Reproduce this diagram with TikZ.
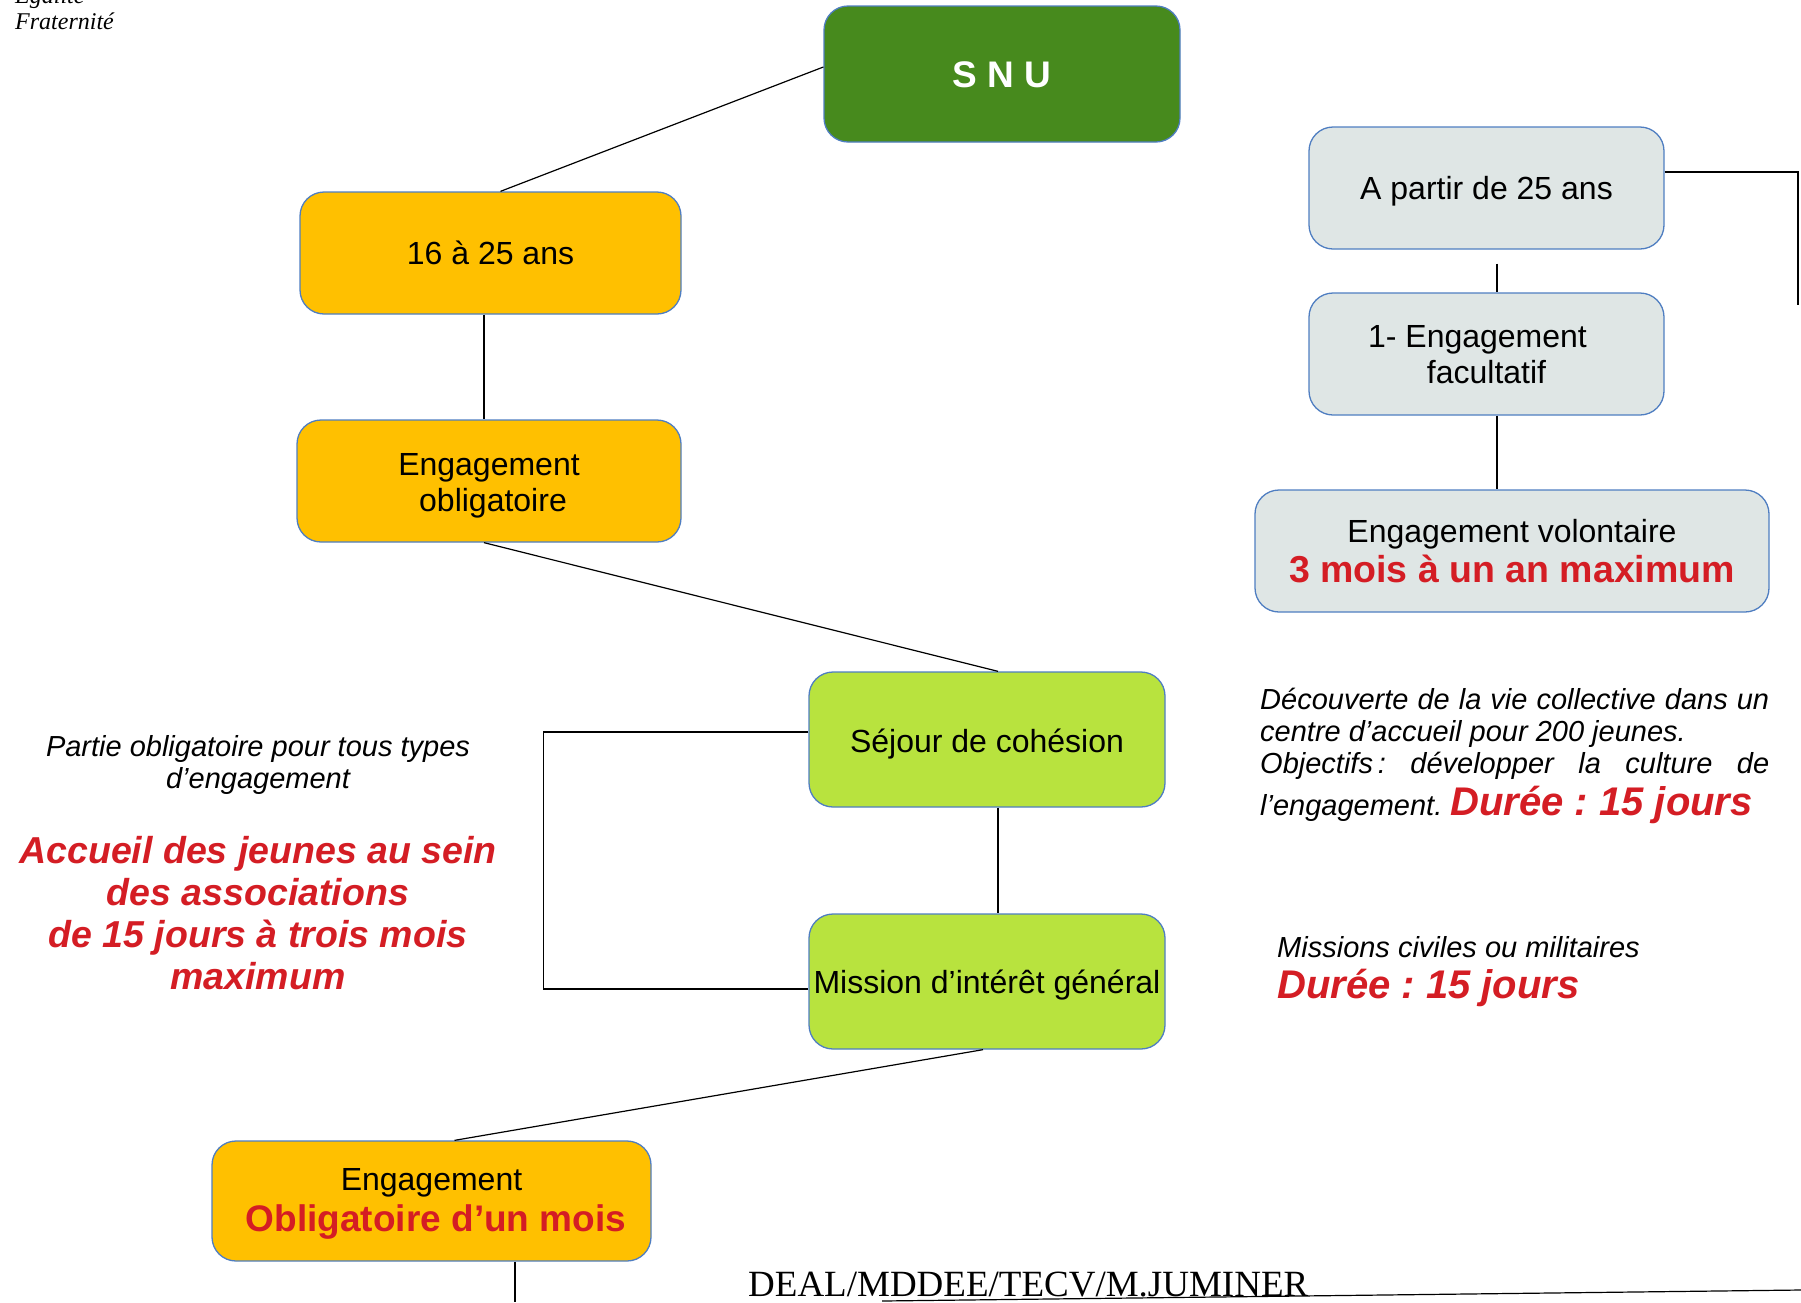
\documentclass[tikz,border=0pt]{standalone}
\usepackage{fontspec}
\setmainfont{Liberation Sans}
\newfontfamily\serifrm{Liberation Serif}
\usetikzlibrary{calc}
\frenchspacing
\definecolor{snugreen}{HTML}{478A1D}
\definecolor{snuyellow}{HTML}{FFC000}
\definecolor{snulime}{HTML}{B8E33E}
\definecolor{snugrey}{HTML}{DFE6E5}
\definecolor{snublue}{HTML}{4F7EC1}
\definecolor{snured}{HTML}{D41D24}
\newcommand\fsz[2]{\fontsize{#1}{#2}\selectfont}
\newcommand\dn[2]{\raisebox{-#1}[\height][\depth]{#2}}
\begin{document}
\begin{tikzpicture}[x=1pt,y=-1pt,
  box/.style={draw=snublue, line width=1.3pt, rounded corners=24pt, inner sep=0pt, align=center, font=\fsz{32}{36}},
  link/.style={draw=black, line width=1.2pt},
  note/.style={inner sep=0pt, font=\itshape\fsz{29}{32}},
  rednote/.style={inner sep=0pt, text=snured, font=\bfseries\itshape\fsz{37.5}{42}}]
\useasboundingbox (0,0) rectangle (1801,1302);

% boxes
\node[box, fill=snugreen, minimum width=356pt, minimum height=136pt, text=white, font=\bfseries\fsz{37}{40}] (snu) at (1002,74) {\dn{1pt}{S N U}};
\node[box, fill=snuyellow, minimum width=381pt, minimum height=122pt] (age) at (490.5,253) {16 à 25 ans};
\node[box, fill=snuyellow, minimum width=384pt, minimum height=122pt] (oblig) at (489,481) {\dn{4.5pt}{Engagement}\\\dn{4.5pt}{\hspace{8pt}obligatoire}};
\node[box, fill=snugrey, minimum width=355pt, minimum height=122pt] (apartir) at (1486.5,188) {\dn{3.5pt}{A partir de 25 ans}};
\node[box, fill=snugrey, minimum width=355pt, minimum height=122pt] (fac) at (1486.5,354) {\dn{1pt}{1- Engagement\hspace{18pt}}\\\dn{1pt}{facultatif}};
\node[box, fill=snugrey, minimum width=514pt, minimum height=122pt] (vol) at (1512,551) {Engagement volontaire\hspace{10pt}\\[4pt]{\color{snured}\bfseries\fsz{37.5}{40}3 mois à un an maximum}};
\node[box, fill=snulime, minimum width=356pt, minimum height=135pt] (sejour) at (987,739.5) {\dn{4.5pt}{Séjour de cohésion}};
\node[box, fill=snulime, minimum width=356pt, minimum height=135pt] (mission) at (987,981.5) {\dn{3.5pt}{Mission d’intérêt général}};
\node[box, fill=snuyellow, minimum width=439pt, minimum height=120pt] (mois) at (431.5,1201) {\dn{2.5pt}{Engagement}\\[5pt]\dn{2.5pt}{\hspace{9pt}\color{snured}\bfseries\fsz{37}{40}Obligatoire d’un mois}};

% free ends
\coordinate (rc1) at (1798,172);
\coordinate (rc2) at (1798,305);
\coordinate (moisend) at (515,1302);
\coordinate (bl1) at (882,1301);
\coordinate (bl2) at (1801,1290);

% connectors
\draw[link] ($(snu.west)+(0,-7)$) -- ($(age.north)+(10,0)$);
\draw[link] ($(age.south)+(-6.5,0)$) -- ($(oblig.north)+(-5,0)$);
\draw[link] ($(oblig.south)+(-5,0)$) -- ($(sejour.north)+(11,0)$);
\draw[link] ($(sejour.south)+(11,0)$) -- ($(mission.north)+(11,0)$);
\draw[link] ($(sejour.west)+(0,-7.5)$) -- ++(-265,0) |- ($(mission.west)+(0,7.5)$);
\draw[link] ($(mission.south)+(-4,0)$) -- ($(mois.north)+(23,0)$);
\draw[link] ($(mois.south)+(83.5,0)$) -- (moisend);
\draw[link] ($(apartir.east)+(0,-16)$) -- (rc1) -- (rc2);
\draw[link] ($(apartir.south)+(10.5,14)$) -- ($(fac.north)+(10.5,0)$);
\draw[link] ($(fac.south)+(10.5,0)$) -- ($(vol.north)+(-15,0)$);
\draw[link] (bl1) -- (bl2);

% texts
\node[inner sep=0pt, anchor=base west, font=\serifrm\itshape\fsz{24}{26}] (egal) at (15,3) {Égalité};
\node[inner sep=0pt, anchor=base west, font=\serifrm\itshape\fsz{24}{26}] (frat) at (15,29) {Fraternité};
\node[inner sep=0pt, anchor=base west, font=\serifrm\fsz{37}{40}] (deal) at (748,1296) {DEAL/MDDEE/TECV/M.JUMINER};

\node[note, align=center] (partie) at (258,765) {Partie obligatoire pour tous types\\d’engagement};
\node[rednote, align=center] (accueil) at (258,913) {Accueil des jeunes au sein\\des associations\\de 15 jours à trois mois\\maximum};

\node[note, text width=509pt, align=justify, anchor=north west] (decouv) at (1260,688)
  {\hyphenpenalty=10000\exhyphenpenalty=10000 Découverte de la vie collective dans un centre d’accueil pour 200 jeunes.\par
   Objectifs\,: développer la culture de \rule{0pt}{35pt}l’engagement. {\color{snured}\bfseries\fsz{40}{42}Durée : 15 jours}};

\node[note, anchor=west] (missciv) at (1277,947) {Missions civiles ou militaires};
\node[rednote, anchor=west, font=\bfseries\itshape\fsz{40}{42}] (duree) at (1277,988) {Durée : 15 jours};
\end{tikzpicture}
\end{document}
